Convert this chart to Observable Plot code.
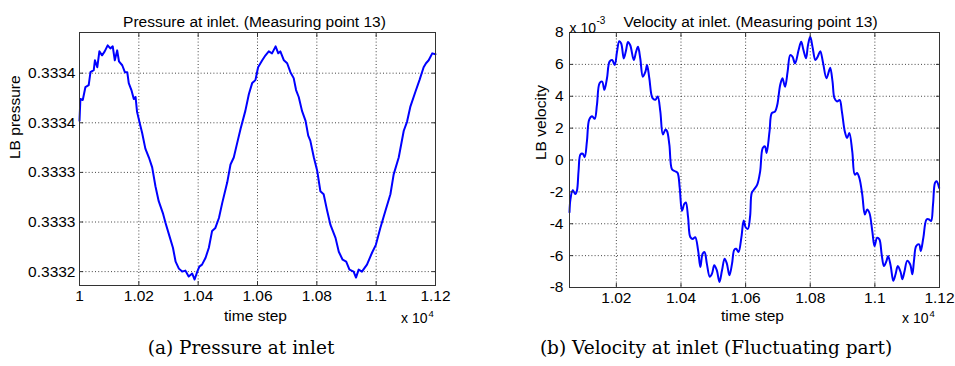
<!DOCTYPE html>
<html><head><meta charset="utf-8">
<script src="https://cdn.jsdelivr.net/npm/d3@7"></script>
<script src="https://cdn.jsdelivr.net/npm/@observablehq/plot@0.6"></script>
<style>
body{margin:0;background:#fff;width:955px;height:366px;position:relative;overflow:hidden}
#a{position:absolute;left:0;top:0}
#b{position:absolute;left:478px;top:0}
.cap{position:absolute;top:337px;font-family:"DejaVu Serif";font-size:18.5px;white-space:nowrap;transform:translateX(-50%);color:#000}
</style></head><body>
<div id="a"></div><div id="b"></div>
<div class="cap" style="left:241px">(a) Pressure at inlet</div>
<div class="cap" style="left:716px">(b) Velocity at inlet (Fluctuating part)</div>
<script>
// ---- Data: pressure at inlet (left) ----
const timeP = [10000,10003,10011,10020,10031,10037,10048,10052,10060,10067,10076,10085,10095,10104,10112,10119,10127,10133,10144,10153,
10161,10166,10175,10183,10189,10194,10206,10211,10222,10234,10245,10256,10267,10281,10290,10303,10315,10324,10335,10346,
10357,10368,10380,10388,10397,10404,10413,10425,10436,10447,10458,10470,10481,10498,10509,10520,10531,10543,10559,10571,
10582,10593,10602,
10616,10627,10638,10649,10661,10670,10677,10689,10700,10711,10722,10730,10739,10750,10762,10771,10778,10790,10801,10812,
10823,10835,10846,10863,10874,10887,10899,10910,10924,10932,10941,10952,10969,10986,10999,11014,11031,11048,11059,11076,
11093,11104,11115,11132,11146,11160,11168,11177,11189,11200];
const pressure = [0.333352,0.333374,0.333373,0.333386,0.333388,0.333401,0.333403,0.333413,0.333406,0.333422,0.333418,0.333422,0.333428,0.333425,0.333427,0.333413,0.333423,0.333412,0.333408,0.333401,
0.333401,0.333390,0.333383,0.333374,0.333376,0.333361,0.333346,0.333340,0.333324,0.333315,0.333305,0.333286,0.333271,0.333259,0.333249,0.333236,0.333224,0.333210,0.333203,0.333200,
0.333201,0.333195,0.333198,0.333192,0.333200,0.333205,0.333207,0.333214,0.333224,0.333241,0.333244,0.333254,0.333269,0.333290,0.333308,0.333315,0.333329,0.333344,0.333362,0.333379,
0.333390,0.333393,0.333406,
0.333413,0.333418,0.333422,0.333420,0.333427,0.333420,0.333422,0.333413,0.333410,0.333401,0.333395,0.333383,0.333376,0.333362,0.333352,0.333337,0.333332,0.333315,0.333302,0.333281,
0.333278,0.333261,0.333247,0.333234,0.333220,0.333212,0.333210,0.333202,0.333200,0.333194,0.333202,0.333200,0.333207,0.333219,0.333227,0.333244,0.333261,0.333278,0.333298,0.333315,
0.333342,0.333351,0.333366,0.333381,0.333393,0.333406,0.333410,0.333413,0.333420,0.333419];

// ---- Data: velocity at inlet, fluctuating part, in units of 1e-3 (right) ----
const timeV = [10055,10058,10065,10073,10078,10083,10089,10096,10102,10109,10116,10125,10133,10140,10148,10156,10163,10171,10179,10187,
10195,10202,10209,10215,10223,10230,10236,10243,10254,10261,10267,10274,10282,10290,10295,10302,10312,10321,10328,10336,
10344,10352,10357,10364,10372,10380,10389,10396,10403,10410,10415,10422,10429,10437,10444,10453,10460,10467,10473,10480,
10489,10496,10503,10511,10519,10527,10535,10542,10550,10558,10565,10571,10578,10587,10594,10600,10607,10614,
10619,10626,10636,10645,10653,10660,10665,10674,10681,10691,10698,10707,10714,10722,10730,10738,10745,10753,10764,10772,
10779,10787,10793,10800,10807,10816,10823,10831,10839,10850,10858,10862,10869,10875,10883,10891,10898,10907,10914,10921,
10930,10938,10945,10952,10961,10969,10976,10983,10992,10999,11007,11014,11021,11028,11036,11041,11049,11057,11064,11071,
11080,11085,11092,11100,11109,11116,11121,11128,11137,11142,11150,11160,11168,11174,11180,11186,11191,11199];
const velocity = [-3.28,-2.45,-1.89,-2.14,-1.93,-0.69,0.35,0.39,0.18,1.18,2.53,2.74,2.59,3.47,4.82,4.92,4.40,5.13,6.17,6.27,
5.96,6.79,7.45,7.31,6.37,6.89,7.41,7.20,6.27,6.79,7.10,6.37,5.23,5.54,5.96,5.13,3.88,3.78,3.99,3.05,
1.60,1.91,1.80,0.97,-0.58,-0.69,-0.79,-1.73,-3.18,-2.76,-2.66,-3.60,-4.84,-4.95,-4.84,-5.67,-6.71,-5.88,-5.78,-6.50,
-7.33,-7.13,-6.61,-6.92,-7.65,-6.92,-6.19,-6.50,-7.23,-6.50,-5.63,-5.57,-5.78,-4.84,-3.80,-4.22,-4.32,-3.50,
-2.06,-1.85,-1.54,-0.71,0.75,0.85,0.44,1.79,2.94,3.04,3.46,4.71,5.13,4.60,5.54,6.58,6.48,6.06,6.90,7.42,
6.90,6.38,7.21,7.73,7.10,6.27,6.48,6.83,6.17,5.13,5.58,5.79,4.92,3.88,3.67,3.77,3.04,1.79,1.38,1.69,
0.54,-0.92,-0.81,-1.13,-2.17,-3.42,-3.10,-3.31,-4.46,-5.40,-4.88,-4.98,-5.92,-6.65,-6.33,-6.02,-6.65,-7.58,-7.17,-6.65,
-7.06,-7.48,-6.96,-6.33,-6.54,-7.17,-6.33,-5.40,-5.29,-5.71,-4.88,-3.73,-3.73,-3.83,-2.79,-1.44,-1.33,-1.75];

// ---- Ticks ----
const xTicksP = [10000,10200,10400,10600,10800,11000,11200];
const xLabelsP = ["1","1.02","1.04","1.06","1.08","1.1","1.12"];
const yTicksP = [0.33320,0.33325,0.33330,0.33335,0.33340];
const yLabelsP = ["0.3332","0.3333","0.3333","0.3334","0.3334"];
const xTicksV = [10200,10400,10600,10800,11000,11200];
const xLabelsV = ["1.02","1.04","1.06","1.08","1.1","1.12"];
const yTicksV = [-8,-6,-4,-2,0,2,4,6,8];
const yLabelsV = ["-8","-6","-4","-2","0","2","4","6","8"];

const FONT = "Liberation Sans, Arial, sans-serif";

function chart(o) {
  const data = o.xs.map((t, i) => ({t, v: o.ys[i]}));
  const lab = (ticks, labels) => d => labels[ticks.indexOf(d)];
  const gridStyle = {stroke: "#444", strokeOpacity: 1, strokeWidth: 1, strokeDasharray: "1,2.2"};
  const marks = [
    Plot.gridX(o.xGrid, gridStyle),
    Plot.gridY(o.yGrid, gridStyle),
    Plot.line(data, {x: "t", y: "v", stroke: "#0000ff", strokeWidth: 2, curve: o.curve}),
    Plot.frame({stroke: "#333", strokeWidth: 1}),
    // inner ticks on all four sides
    Plot.axisX(o.xTicks, {anchor: "bottom", tickSize: -4, tickFormat: () => "", label: null, stroke: "#333"}),
    Plot.axisX(o.xTicks, {anchor: "top", tickSize: -4, tickFormat: () => "", label: null, stroke: "#333"}),
    Plot.axisY(o.yTicks, {anchor: "left", tickSize: -4, tickFormat: () => "", label: null, stroke: "#333"}),
    Plot.axisY(o.yTicks, {anchor: "right", tickSize: -4, tickFormat: () => "", label: null, stroke: "#333"}),
    // tick labels
    Plot.axisX(o.xTicks, {anchor: "bottom", tickSize: 0, tickPadding: 4, tickFormat: lab(o.xTicks, o.xLabels), label: null, fontSize: 15.5}),
    Plot.axisY(o.yTicks, {anchor: "left", tickSize: 0, tickPadding: o.yPad, tickFormat: lab(o.yTicks, o.yLabels), label: null, fontSize: 15.5}),
    // title and labels
    Plot.text([o.title], {frameAnchor: "top", dy: -17, dx: o.titleDx, fontSize: 15.5}),
    Plot.text(["time step"], {frameAnchor: "bottom", dy: o.xlabDy, dx: -2, fontSize: 15.5}),
    Plot.text([o.ylabel], {frameAnchor: "left", dx: o.ylabDx, rotate: -90, fontSize: 15.5}),
    Plot.text(["x 10"], {frameAnchor: "bottom-right", textAnchor: "end", dx: o.expDx, dy: o.expDy, fontSize: 14}),
    Plot.text(["4"], {frameAnchor: "bottom-right", textAnchor: "start", dx: o.expDx + 1, dy: o.expDy - 6, fontSize: 9.5})
  ];
  if (o.yExp) {
    marks.push(Plot.text(["x 10"], {frameAnchor: "top-left", textAnchor: "start", dx: 0, dy: -9, fontSize: 14}));
    marks.push(Plot.text(["-3"], {frameAnchor: "top-left", textAnchor: "start", dx: 27, dy: -16, fontSize: 10}));
  }
  return Plot.plot({
    width: o.width, height: 330,
    marginLeft: o.ml, marginRight: o.mr, marginTop: 32, marginBottom: o.mb,
    style: {fontFamily: FONT, fontSize: "15px", color: "#000", background: "#fff"},
    x: {domain: o.xDomain, axis: null},
    y: {domain: o.yDomain, axis: null},
    marks
  });
}

document.getElementById("a").append(chart({
  xs: timeP, ys: pressure, curve: "linear",
  xDomain: [10000, 11200], yDomain: [0.333186, 0.333441],
  xTicks: xTicksP, xLabels: xLabelsP, yTicks: yTicksP, yLabels: yLabelsP,
  xGrid: [10200,10400,10600,10800,11000], yGrid: yTicksP,
  width: 478, ml: 79, mr: 43, mb: 45, yPad: 4,
  title: "Pressure at inlet. (Measuring point 13)", titleDx: -3,
  ylabel: "LB pressure", ylabDx: -64, xlabDy: 35, expDx: -8, expDy: 37
}));
document.getElementById("b").append(chart({
  xs: timeV, ys: velocity, curve: "catmull-rom",
  xDomain: [10055, 11200], yDomain: [-8, 8],
  xTicks: xTicksV, xLabels: xLabelsV, yTicks: yTicksV, yLabels: yLabelsV,
  xGrid: [10200,10400,10600,10800,11000], yGrid: [-6,-4,-2,0,2,4,6],
  width: 477, ml: 91, mr: 16, mb: 43, yPad: 6,
  title: "Velocity at inlet. (Measuring point 13)", titleDx: -4,
  ylabel: "LB velocity", ylabDx: -28, xlabDy: 33, expDx: -11, expDy: 35, yExp: true
}));
</script>
</body></html>
